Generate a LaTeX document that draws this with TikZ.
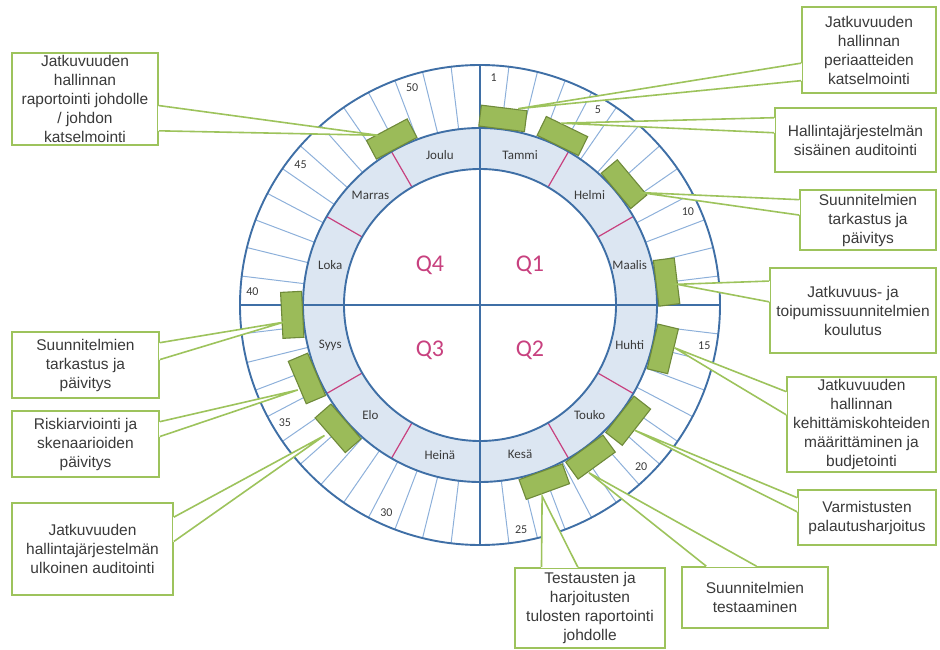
\documentclass[tikz,border=0pt]{standalone}
\usepackage{fontspec}
\setmainfont{Liberation Sans}
\newfontfamily\wheelfont{Carlito}
\usetikzlibrary{calc}

\definecolor{ringblue}{HTML}{3F6FA6}
\definecolor{tickblue}{HTML}{8DB0DA}
\definecolor{ringfill}{HTML}{DCE6F2}
\definecolor{monthpink}{HTML}{C8417F}
\definecolor{blockgreen}{HTML}{9BBB59}
\definecolor{blockedge}{HTML}{6F8A3A}
\definecolor{calloutgreen}{HTML}{9DC35C}
\definecolor{textgrey}{HTML}{3A3A3A}

\tikzset{
  weektick/.style={draw=tickblue, line width=1pt},
  divider/.style={draw=monthpink, line width=1.2pt},
  wheelline/.style={draw=ringblue, line width=1.9pt},
  quadline/.style={draw=ringblue, line width=1.4pt},
  month/.style={font=\wheelfont\fontsize{13}{15}\selectfont, text=textgrey},
  week/.style={font=\wheelfont\fontsize{12}{14}\selectfont, text=textgrey},
  quarter/.style={font=\wheelfont\fontsize{24}{28}\selectfont, text=monthpink},
  blk/.style={draw=blockedge, fill=blockgreen, line width=1.1pt, minimum width=46pt, minimum height=21pt, inner sep=0pt},
  callbox/.style={draw=calloutgreen, fill=white, line width=1.6pt, align=center, inner sep=1pt, text=textgrey, font=\fontsize{15.5}{19}\selectfont},
  callline/.style={draw=calloutgreen, line width=1.6pt}
}

\newcommand{\callwedge}[3]{%
  \fill[white] (#1) -- (#2) -- (#3) -- cycle;
  \draw[white, line width=2.2pt] (#1) -- (#3);
  \draw[callline] (#1) -- (#2) -- (#3);
}

\begin{document}
\begin{tikzpicture}[x=1pt, y=1pt]
\useasboundingbox (-480,-345) rectangle (460,305);

\fill[ringfill] (0,0) circle (177);
\fill[white] (0,0) circle (136);
\foreach \k in {1,...,51}
  \draw[weektick] ({90-\k*(360/52)}:177) -- ({90-\k*(360/52)}:240);
\foreach \a in {60,30,-30,-60,-120,-150,150,120}
  \draw[divider] (\a:136) -- (\a:177);
\draw[wheelline] (0,0) circle (136) (0,0) circle (177) (0,0) circle (240);
\draw[quadline] (-240,0) -- (240,0) (0,-240) -- (0,240);

\foreach \m [count=\i] in {Tammi,Helmi,Maalis,Huhti,Touko,Kesä,Heinä,Elo,Syys,Loka,Marras,Joulu}
  \node (m\i) at ({105-30*\i}:155) [month] {\m};
\foreach \w in {1,5,10,15,20,25,30,35,40,45,50}
  \node (w\w) at ({90-(\w-0.5)*(360/52)}:228) [week] {\w};

\node (q1) at (50,40) [quarter] {Q1};
\node (q2) at (50,-45) [quarter] {Q2};
\node (q3) at (-50,-45) [quarter] {Q3};
\node (q4) at (-50,40) [quarter] {Q4};

\foreach \a [count=\i] in {83,64,40,7,-13.5,-38,-54,-70,183,203,221,118}
  \node (b\i) at (\a:188) [blk, rotate=\a-90] {};

\coordinate (t1) at (79:200);
\coordinate (t2) at (66:199);
\coordinate (t3) at (35:196);
\coordinate (t4) at (6:198);
\coordinate (t5) at (-12.4:199);
\coordinate (t6) at (-39:199);
\coordinate (t7) at (-57:200);
\coordinate (t8) at (-72:201);
\coordinate (t9) at (185:197);
\coordinate (t10) at (205:201);
\coordinate (t11) at (220:203);
\coordinate (t12) at (121:198);

\node (c1) at (389,255) [callbox, minimum width=134pt, minimum height=86pt] {Jatkuvuuden\\hallinnan\\periaatteiden\\katselmointi};
\callwedge{$(c1.north west)!.65!(c1.south west)$}{t1}{$(c1.north west)!.85!(c1.south west)$}
\node (c2) at (375.5,165) [callbox, minimum width=161pt, minimum height=64pt] {Hallintajärjestelmän\\sisäinen auditointi};
\callwedge{$(c2.north west)!.16!(c2.south west)$}{t2}{$(c2.north west)!.39!(c2.south west)$}
\node (c3) at (388,85) [callbox, minimum width=136pt, minimum height=60pt] {Suunnitelmien\\tarkastus ja\\päivitys};
\callwedge{$(c3.north west)!.17!(c3.south west)$}{t3}{$(c3.north west)!.42!(c3.south west)$}
\node (c4) at (373,-5.5) [callbox, minimum width=166pt, minimum height=85pt] {Jatkuvuus- ja\\toipumissuunnitelmien\\koulutus};
\callwedge{$(c4.north west)!.16!(c4.south west)$}{t4}{$(c4.north west)!.40!(c4.south west)$}
\node (c5) at (381.5,-119.5) [callbox, minimum width=149pt, minimum height=95pt] {Jatkuvuuden\\hallinnan\\kehittämiskohteiden\\määrittäminen ja\\budjetointi};
\callwedge{$(c5.north west)!.16!(c5.south west)$}{t5}{$(c5.north west)!.40!(c5.south west)$}
\node (c6) at (387,-212.5) [callbox, minimum width=138pt, minimum height=55pt] {Varmistusten\\palautusharjoitus};
\callwedge{$(c6.north west)!.15!(c6.south west)$}{t6}{$(c6.north west)!.40!(c6.south west)$}
\node (c7) at (275,-292.5) [callbox, minimum width=146pt, minimum height=61pt] {Suunnitelmien\\testaaminen};
\callwedge{$(c7.north west)!.17!(c7.north east)$}{t7}{$(c7.north west)!.51!(c7.north east)$}
\node (c8) at (110,-303) [callbox, minimum width=150pt, minimum height=80pt] {Testausten ja\\harjoitusten\\tulosten raportointi\\johdolle};
\callwedge{$(c8.north west)!.18!(c8.north east)$}{t8}{$(c8.north west)!.42!(c8.north east)$}
\node (c9) at (-394.5,-60) [callbox, minimum width=147pt, minimum height=66pt] {Suunnitelmien\\tarkastus ja\\päivitys};
\callwedge{$(c9.north east)!.17!(c9.south east)$}{t9}{$(c9.north east)!.42!(c9.south east)$}
\node (c10) at (-394.5,-139) [callbox, minimum width=147pt, minimum height=66pt] {Riskiarviointi ja\\skenaarioiden\\päivitys};
\callwedge{$(c10.north east)!.17!(c10.south east)$}{t10}{$(c10.north east)!.39!(c10.south east)$}
\node (c11) at (-387.5,-244) [callbox, minimum width=161pt, minimum height=92pt] {Jatkuvuuden\\hallintajärjestelmän\\ulkoinen auditointi};
\callwedge{$(c11.north east)!.16!(c11.south east)$}{t11}{$(c11.north east)!.42!(c11.south east)$}
\node (c12) at (-395,206) [callbox, minimum width=146pt, minimum height=92pt] {Jatkuvuuden\\hallinnan\\raportointi johdolle\\/ johdon\\katselmointi};
\callwedge{$(c12.north east)!.57!(c12.south east)$}{t12}{$(c12.north east)!.84!(c12.south east)$}
\end{tikzpicture}
\end{document}
